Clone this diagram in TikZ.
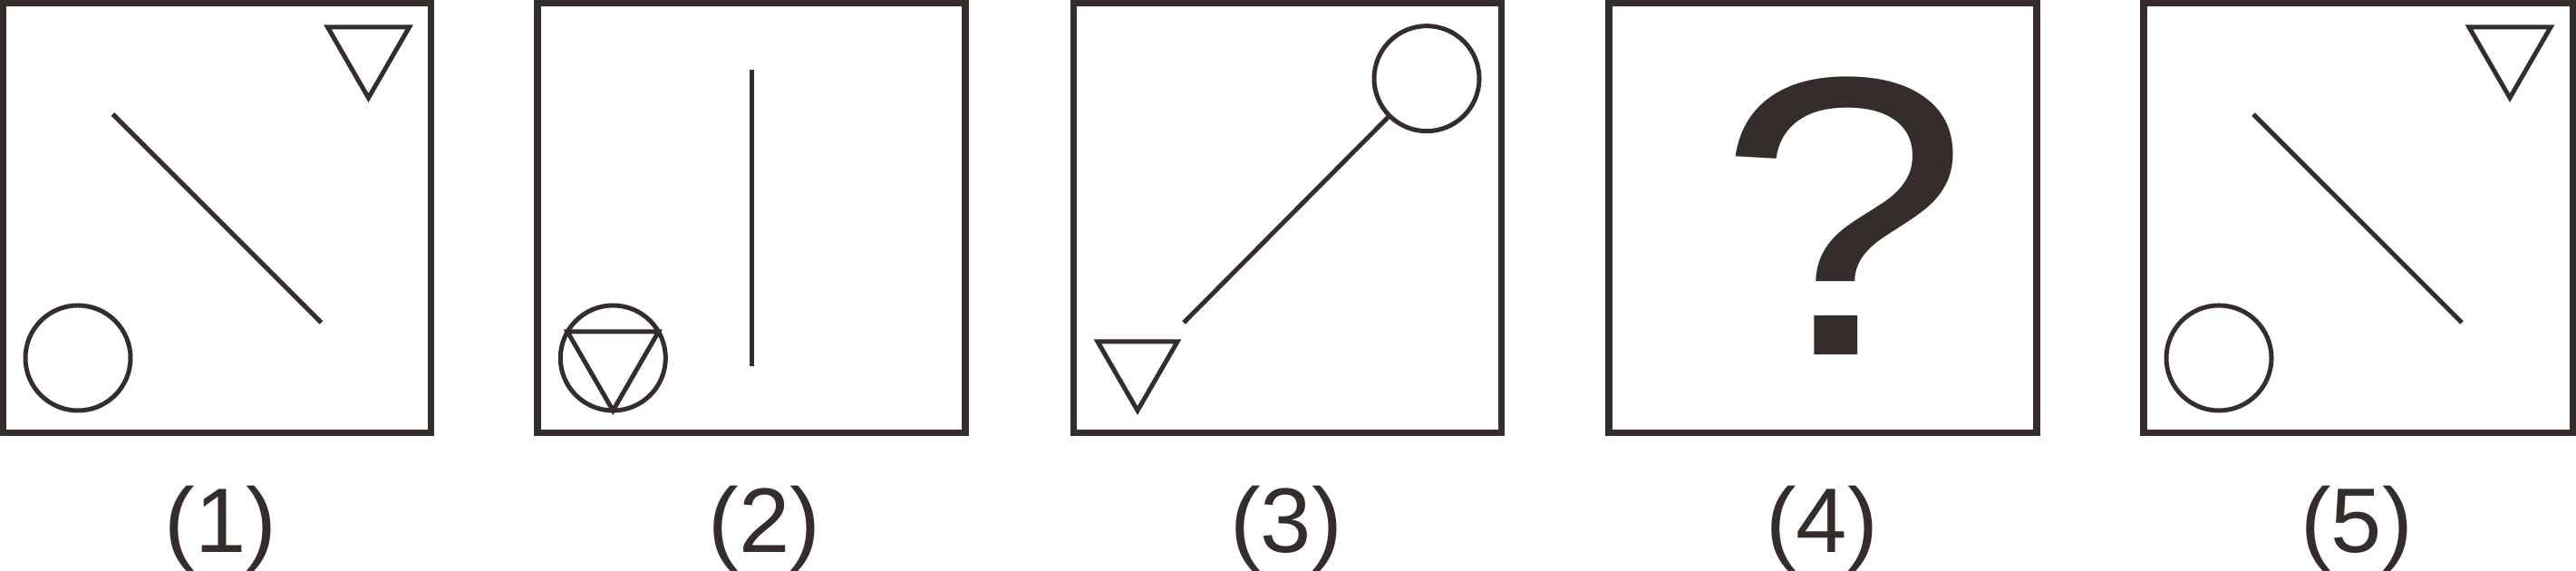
\documentclass[tikz,border=0pt]{standalone}
\usepackage{fontspec}
\setmainfont{Liberation Sans}
\usetikzlibrary{calc}
\definecolor{figink}{RGB}{53,45,43}
\begin{document}
\begin{tikzpicture}[figink,
  panel/.style={draw, line width=0.075cm},
  thin/.style={draw, line width=0.05cm},
  lbl/.style={anchor=base, inner sep=0pt, font=\fontsize{28.8}{30}\selectfont}]
\useasboundingbox (0,0) rectangle (28.42,6.3);
% (1)
\draw[panel] (0.035,1.525) rectangle (4.755,6.2625);
\draw[thin] (3.615,6.0) -- (4.515,6.0) -- (4.065,5.22) -- cycle;
\draw[thin] (1.245,5.04) -- (3.545,2.74);
\draw[thin] (0.86,2.35) circle (0.58);
\node[lbl] (l1) at (2.435,0.2) {(1)};
% (2)
\draw[panel] (5.93,1.525) rectangle (10.65,6.2625);
\draw[line width=0.055cm] (8.295,5.53) -- (8.295,2.26);
\draw[thin] (6.763,2.35) circle (0.58);
\draw[thin] ($(6.763,2.35)+(150:0.58)$) -- ($(6.763,2.35)+(30:0.58)$) -- ($(6.763,2.35)+(270:0.58)$) -- cycle;
\node[lbl] (l2) at (8.435,0.2) {(2)};
% (3)
\draw[panel] (11.845,1.525) rectangle (16.565,6.2625);
\draw[thin] (15.74,5.433) circle (0.58);
\draw[thin] (13.06,2.74) -- ($(15.74,5.433)+(225:0.58)$);
\draw[thin] (12.11,2.53) -- (12.99,2.53) -- (12.55,1.77) -- cycle;
\node[lbl] (l3) at (14.19,0.2) {(3)};
% (4)
\draw[panel] (17.75,1.525) rectangle (22.47,6.2625);
\node[anchor=base, inner sep=0pt, xscale=1.2, yscale=1.05, font=\fontsize{119}{120}\selectfont] (qmark) at (20.34,2.383) {?};
\node[lbl] (l4) at (20.10,0.2) {(4)};
% (5)
\draw[panel] (23.65,1.525) rectangle (28.385,6.2625);
\draw[thin] (27.24,6.0) -- (28.14,6.0) -- (27.69,5.22) -- cycle;
\draw[thin] (24.86,5.04) -- (27.16,2.74);
\draw[thin] (24.48,2.35) circle (0.58);
\node[lbl] (l5) at (26.0,0.2) {(5)};
\end{tikzpicture}
\end{document}
